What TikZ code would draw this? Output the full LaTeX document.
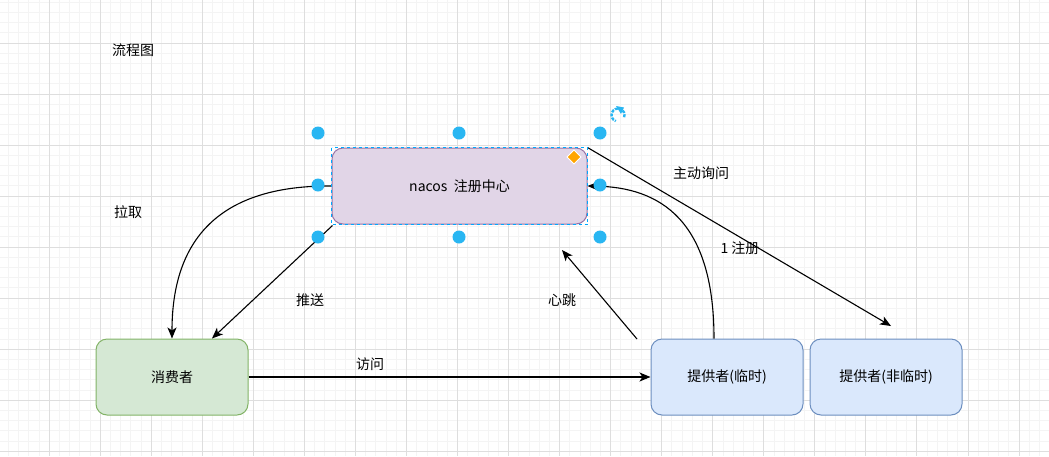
\documentclass[tikz,border=0pt]{standalone}
\usepackage{fontspec}
\setmainfont{Noto Sans CJK SC}
\usetikzlibrary{arrows.meta}
\definecolor{gminor}{RGB}{244,244,244}
\definecolor{gmajor}{RGB}{222,222,222}
\definecolor{hblue}{RGB}{41,182,242}
\definecolor{selblue}{RGB}{0,168,255}
\definecolor{pfill}{RGB}{225,213,231}
\definecolor{pline}{RGB}{150,115,166}
\definecolor{gfill}{RGB}{213,232,212}
\definecolor{gline}{RGB}{130,179,102}
\definecolor{bfill}{RGB}{218,232,252}
\definecolor{bline}{RGB}{108,142,191}
\definecolor{dorange}{RGB}{255,165,0}
\begin{document}
\begin{tikzpicture}[x=1pt,y=-1pt,
  box/.style={draw, rounded corners=11pt, line width=1pt, minimum width=152pt, minimum height=76pt, inner sep=0pt, font=\fontsize{14}{16}\selectfont},
  lbl/.style={inner sep=0pt, font=\fontsize{14}{16}\selectfont},
  arr/.style={-{Stealth[length=11pt,width=9pt,inset=3pt]}, line width=1.1pt},
  handle/.style={circle, fill=hblue, minimum size=13pt, inner sep=0pt}]
\useasboundingbox (0,0) rectangle (1049,456);
\fill[white] (0,0) rectangle (1049,456);
% grid
\foreach \k in {0,...,103} {
  \pgfmathsetmacro\xx{-1.74+10.208*\k}
  \draw[gminor, line width=1pt] (\xx,0) -- (\xx,456);
}
\foreach \k in {0,...,45} {
  \pgfmathsetmacro\yy{-8.04+10.208*\k}
  \draw[gminor, line width=1pt] (0,\yy) -- (1049,\yy);
}
\foreach \k in {0,...,20} {
  \pgfmathsetmacro\xx{-1.74+51.04*\k}
  \draw[gmajor, line width=1pt] (\xx,0) -- (\xx,456);
}
\foreach \k in {0,...,9} {
  \pgfmathsetmacro\yy{-8.04+51.04*\k}
  \draw[gmajor, line width=1pt] (0,\yy) -- (1049,\yy);
}
% nodes
\node[box, fill=pfill, draw=pline, minimum width=255pt] (nacos) at (459.5,186) {nacos\ \ 注册中心};
\node[box, fill=gfill, draw=gline] (cons) at (172,377) {消费者};
\node[box, fill=bfill, draw=bline] (prov1) at (727,377) {提供者(临时)};
\node[box, fill=bfill, draw=bline] (prov2) at (886,377) {提供者(非临时)};
% labels
\node[lbl] (title) at (133,50) {流程图};
\node[lbl] (lpull) at (128,212) {拉取};
\node[lbl] (lpush) at (310,300) {推送};
\node[lbl] (lvisit) at (370,364) {访问};
\node[lbl] (lhb) at (562,300) {心跳};
\node[lbl] (lask) at (701,173) {主动询问};
\node[lbl] (lreg) at (740,248) {1 注册};
% coordinates
\coordinate (pushend) at ([xshift=40pt]cons.north);
\coordinate (hbstart) at (637,339);
\coordinate (hbend) at (562,250);
\coordinate (regstart) at ([xshift=-13pt]prov1.north);
\coordinate (regc1) at (714,220);
\coordinate (askend) at (891,326);
% connectors
\draw[arr] (nacos.west) .. controls (200,185) and (172,260) .. (cons.north);
\draw[arr] ([shift={(1pt,-1pt)}]nacos.south west) -- (pushend);
\draw[arr] (cons.east) -- (prov1.west);
\draw[arr] (hbstart) -- (hbend);
\draw[arr] (regstart) .. controls (regc1) and (660,187) .. (nacos.east);
\draw[arr] (nacos.north east) -- (askend);
% selection overlay
\draw[selblue, line width=1pt, dash pattern=on 3pt off 3pt] (nacos.north west) rectangle (nacos.south east);
\foreach \n/\p in {h1/{(318,133)}, h2/{(459,133)}, h3/{(600,133)}, h4/{(318,185)}, h5/{(600,185)}, h6/{(318,237)}, h7/{(459,237)}, h8/{(600,237)}}
  \node[handle] (\n) at \p {};
\fill[dorange, draw=white, line width=1pt] (574,150) -- (581,157) -- (574,164) -- (567,157) -- cycle;
\draw[hblue, line width=2.4pt, dash pattern=on 3pt off 1.2pt] ([shift={(20:6.5)}]618,115) arc[start angle=20, end angle=-250, radius=6.5];
\fill[hblue] (616,106) -- (624,107.5) -- (621,114) -- cycle;
\end{tikzpicture}
\end{document}
